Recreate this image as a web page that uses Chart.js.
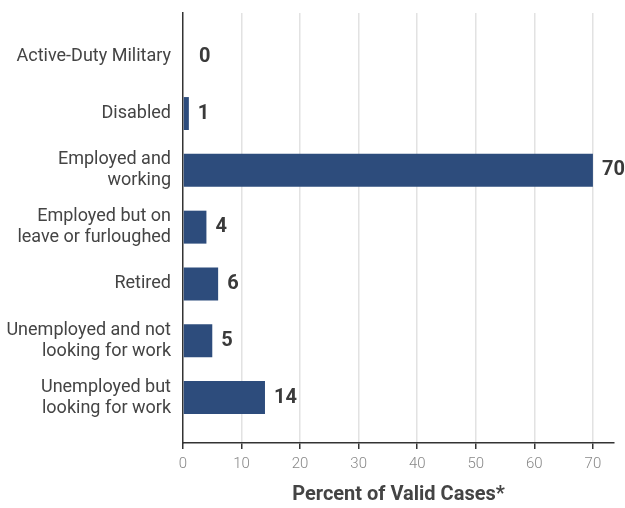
<!DOCTYPE html>
<html>
<head>
<meta charset="utf-8">
<script src="https://cdn.jsdelivr.net/npm/chart.js@4/dist/chart.umd.min.js"></script>
<style>
  html, body { margin: 0; padding: 0; background: #fff; }
  #wrap { width: 625px; height: 508px; }
</style>
</head>
<body>
<div id="wrap"><canvas id="cv"></canvas></div>
<script>
const categories = [
  'Active-Duty Military',
  'Disabled',
  ['Employed and', 'working'],
  ['Employed but on', 'leave or furloughed'],
  'Retired',
  ['Unemployed and not', 'looking for work'],
  ['Unemployed but', 'looking for work']
];
const percents = [0, 1, 70, 4, 6, 5, 14];
const xTickValues = [0, 10, 20, 30, 40, 50, 60, 70];

const barColor = '#2d4c7c';
const textColor = '#444';

// value labels to the right of each bar
const valueLabels = {
  id: 'valueLabels',
  afterDatasetsDraw(chart) {
    const ctx = chart.ctx;
    const meta = chart.getDatasetMeta(0);
    ctx.save();
    ctx.font = 'bold 20px Roboto';
    ctx.fillStyle = '#3a3a3a';
    ctx.textAlign = 'left';
    ctx.textBaseline = 'middle';
    meta.data.forEach((bar, i) => {
      const pad = percents[i] === 0 ? 16 : 9;
      ctx.fillText(String(percents[i]), bar.x + pad, bar.y);
    });
    ctx.restore();
  }
};

new Chart(document.getElementById('cv'), {
  type: 'bar',
  data: {
    datasets: [{
      data: percents.map((v, i) => ({ x: v, y: i })),
      backgroundColor: barColor,
      borderWidth: 0,
      barPercentage: 0.58,
      categoryPercentage: 1
    }]
  },
  options: {
    indexAxis: 'y',
    responsive: true,
    maintainAspectRatio: false,
    animation: false,
    layout: { padding: { top: 13, right: 11, left: 0, bottom: 0 } },
    plugins: {
      legend: { display: false },
      tooltip: { enabled: false }
    },
    scales: {
      x: {
        type: 'linear',
        min: 0,
        max: 73.6,
        afterBuildTicks: (scale) => { scale.ticks = xTickValues.map(v => ({ value: v })); },
        afterFit: (scale) => { scale.height = 65; },
        grid: {
          color: (c) => (c.tick && c.tick.value === 0) ? 'rgba(0,0,0,0)' : '#e2e2e2',
          lineWidth: 1.5,
          tickColor: '#333',
          tickLength: 6
        },
        border: { color: '#333', width: 1.5 },
        ticks: {
          color: '#888',
          font: { family: 'Roboto', size: 15, weight: '300' },
          padding: 6
        },
        title: {
          display: true,
          text: 'Percent of Valid Cases*',
          color: textColor,
          font: { family: 'Roboto', size: 20, weight: 'bold' },
          padding: { top: 0, bottom: 1 }
        }
      },
      y: {
        type: 'linear',
        reverse: true,
        offset: false,
        min: -0.77,
        max: 6.8,
        afterBuildTicks: (scale) => { scale.ticks = categories.map((_, i) => ({ value: i })); },
        afterFit: (scale) => {
          scale.width = 183;
          // labels sit well inside the plot, no extra room needed above/below
          scale.paddingTop = 0;
          scale.paddingBottom = 0;
        },
        grid: { display: false, drawTicks: false, offset: false },
        border: { color: '#333', width: 1.5 },
        ticks: {
          color: textColor,
          font: { family: 'Roboto', size: 18, lineHeight: 1.17 },
          padding: 12,
          callback: (v) => categories[v]
        }
      }
    }
  },
  plugins: [valueLabels]
});
</script>
</body>
</html>
